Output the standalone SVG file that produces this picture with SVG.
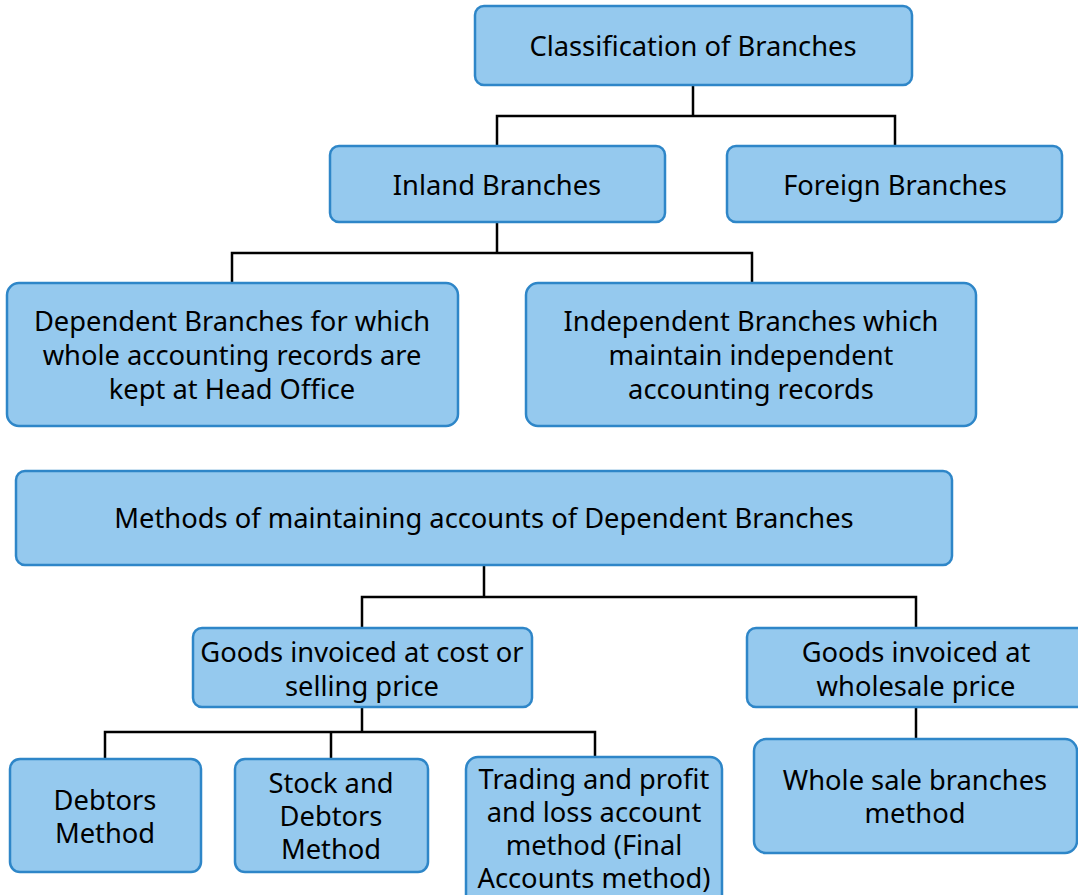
<svg xmlns="http://www.w3.org/2000/svg" width="1078" height="895" viewBox="0 0 1078 895">
<style>
.box{fill:#95c9ee;stroke:#2e86c8;stroke-width:2.5}
.t{font-family:"Noto Sans","Open Sans",sans-serif;font-size:27.3px;fill:#000;text-anchor:middle;dominant-baseline:central}
.c{fill:none;stroke:#000;stroke-width:2.5}
</style>
<rect width="1078" height="895" fill="#fff"/>
<g id="connectors">
<path class="c" d="M693 85V116M497 146V116H895V146"/>
<path class="c" d="M497 222V253M232 283V253H752V283"/>
<path class="c" d="M484 565V597M362 628V597H916V628"/>
<path class="c" d="M362 707V732M105 759V732H595V757M331 732V759"/>
<path class="c" d="M916 707V739"/>
</g>
<g id="classification"><rect class="box" x="475" y="6" width="437" height="79" rx="9"/><text class="t" x="693" y="45">Classification of Branches</text></g>
<g id="inland"><rect class="box" x="330" y="146" width="335" height="76" rx="9"/><text class="t" x="497" y="184">Inland Branches</text></g>
<g id="foreign"><rect class="box" x="727" y="146" width="335" height="76" rx="9"/><text class="t" x="895" y="184">Foreign Branches</text></g>
<g id="dependent"><rect class="box" x="7" y="283" width="451" height="143" rx="12"/><text class="t" x="232"><tspan x="232" y="320">Dependent Branches for which</tspan><tspan x="232" y="354">whole accounting records are</tspan><tspan x="232" y="388">kept at Head Office</tspan></text></g>
<g id="independent"><rect class="box" x="526" y="283" width="450" height="143" rx="12"/><text class="t" x="751"><tspan x="751" y="320">Independent Branches which</tspan><tspan x="751" y="354">maintain independent</tspan><tspan x="751" y="388">accounting records</tspan></text></g>
<g id="methods"><rect class="box" x="16" y="471" width="936" height="94" rx="9"/><text class="t" x="484" y="517">Methods of maintaining accounts of Dependent Branches</text></g>
<g id="goods-cost"><rect class="box" x="193" y="628" width="339" height="79" rx="9"/><text class="t" x="362"><tspan x="362" y="651">Goods invoiced at cost or</tspan><tspan x="362" y="685">selling price</tspan></text></g>
<g id="goods-wholesale"><rect class="box" x="747" y="628" width="345" height="79" rx="9"/><text class="t" x="916"><tspan x="916" y="651">Goods invoiced at</tspan><tspan x="916" y="685">wholesale price</tspan></text></g>
<g id="debtors"><rect class="box" x="10" y="759" width="191" height="113" rx="10"/><text class="t" x="105"><tspan x="105" y="799">Debtors</tspan><tspan x="105" y="832">Method</tspan></text></g>
<g id="stock-debtors"><rect class="box" x="235" y="759" width="193" height="113" rx="10"/><text class="t" x="331"><tspan x="331" y="782">Stock and</tspan><tspan x="331" y="815">Debtors</tspan><tspan x="331" y="848">Method</tspan></text></g>
<g id="trading"><rect class="box" x="466" y="757" width="256" height="150" rx="12"/><text class="t" x="594"><tspan x="594" y="778">Trading and profit</tspan><tspan x="594" y="811">and loss account</tspan><tspan x="594" y="844">method (Final</tspan><tspan x="594" y="877">Accounts method)</tspan></text></g>
<g id="wholesale-method"><rect class="box" x="754" y="739" width="323" height="114" rx="12"/><text class="t" x="915"><tspan x="915" y="779">Whole sale branches</tspan><tspan x="915" y="812">method</tspan></text></g>
</svg>
